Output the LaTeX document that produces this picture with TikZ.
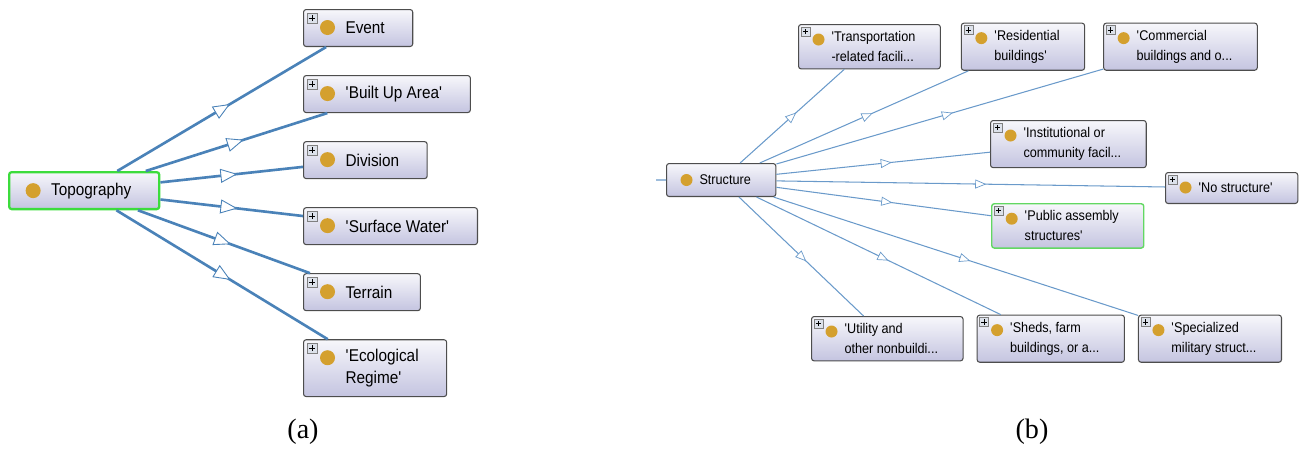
\documentclass[tikz,border=0pt]{standalone}
\usepackage{fontspec}
\setmainfont{Liberation Serif}
\newfontfamily\owlsf{Liberation Sans}[FakeStretch=0.9]
\usetikzlibrary{arrows.meta,positioning,decorations.markings}
\definecolor{boxedge}{HTML}{4D4D4D}
\definecolor{boxtop}{HTML}{F7F7FB}
\definecolor{boxbot}{HTML}{C4C4E0}
\definecolor{dotgold}{HTML}{D4A02E}
\definecolor{plusfill}{HTML}{DCE1EA}
\definecolor{linkblue}{HTML}{4A82B8}
\definecolor{linkpale}{HTML}{6A9ACA}
\definecolor{focusgreen}{HTML}{3CDC3C}
\definecolor{pickgreen}{HTML}{62D862}

\newcommand{\owlq}{\textquotesingle}
\def\headera{\hskip0.28cm##\hfil\cr}
\def\headerb{\hskip0.16cm##\hfil\cr}
\newcommand{\owldot}[3]{\fill[dotgold, draw=none] ([shift={(#1,-#2)}]path picture bounding box.north west) circle (#3);}
\newcommand{\owlplus}[2]{%
  \draw[draw=gray, fill=plusfill, line width=0.3pt, sharp corners] ([shift={(#1,-#1)}]path picture bounding box.north west) coordinate (pp) rectangle ++(#2,-#2);
  \draw[draw=black, line width=0.5pt] ([shift={(#2/2,-#2/2)}]pp) +(-#2*0.3,0) -- +(#2*0.3,0) +(0,-#2*0.3) -- +(0,#2*0.3);}

\begin{document}
\begin{tikzpicture}[x=0.02cm, y=-0.02cm,
  clsa/.style={draw=boxedge, line width=0.6pt, rounded corners=1.5pt, top color=boxtop, bottom color=boxbot, anchor=north west, inner xsep=0.56cm, inner ysep=0.19cm, minimum height=0.74cm, font=\owlsf\fontsize{9.7}{12.5}\selectfont},
  onea/.style={execute at begin node=\hskip0.28cm},
  twoa/.style={node halign header=\headera},
  suba/.style={clsa, path picture={\owldot{0.48cm}{0.36cm}{0.15cm}\owlplus{0.07cm}{0.2cm}}},
  topa/.style={clsa, onea, draw=focusgreen, line width=1.3pt, path picture={\owldot{0.48cm}{0.37cm}{0.15cm}}},
  clsb/.style={draw=boxedge, line width=0.6pt, rounded corners=1.5pt, top color=boxtop, bottom color=boxbot, anchor=north west, inner xsep=0.5cm, inner ysep=0.14cm, minimum height=0.62cm, font=\owlsf\fontsize{8}{11.4}\selectfont},
  oneb/.style={execute at begin node=\hskip0.16cm},
  twob/.style={node halign header=\headerb},
  subb/.style={clsb, path picture={\owldot{0.4cm}{0.3cm}{0.12cm}\owlplus{0.05cm}{0.18cm}}},
  topb/.style={clsb, oneb, minimum height=0.66cm, path picture={\owldot{0.4cm}{0.33cm}{0.12cm}}},
  linka/.style={draw=linkblue, line width=1.5pt, postaction={decorate}, decoration={markings, mark=at position 0.54 with {\arrow{Triangle[length=0.34cm, width=0.28cm, fill=white, line width=0.5pt]}}}},
  plainb/.style={draw=linkpale, line width=0.6pt},
  linkb/.style={plainb, postaction={decorate}, decoration={markings, mark=at position 0.54 with {\arrow{Triangle[length=0.22cm, width=0.18cm, fill=white, line width=0.4pt]}}}},
  caption/.style={font=\fontsize{16}{18}\selectfont}
]
  \useasboundingbox (0,0) rectangle (1300,450);

  \node[topa] (topo) at (8,171) {Topography};
  \node[suba, onea] (event) at (303,9) {Event};
  \node[suba, onea, below=0.56cm of event.south west, anchor=north west] (builtup) {\owlq Built Up Area\owlq};
  \node[suba, onea, below=0.56cm of builtup.south west, anchor=north west] (division) {Division};
  \node[suba, onea, below=0.56cm of division.south west, anchor=north west] (surface) {\owlq Surface Water\owlq};
  \node[suba, onea, below=0.56cm of surface.south west, anchor=north west] (terrain) {Terrain};
  \node[suba, twoa, below=0.56cm of terrain.south west, anchor=north west] (ecoregime) {\owlq Ecological\\Regime\owlq};

  \draw[linka] (topo) -- (event);
  \draw[linka] (topo) -- (builtup);
  \draw[linka] (topo) -- (division);
  \draw[linka] (topo) -- (surface);
  \draw[linka] (topo) -- (terrain);
  \draw[linka] (topo) -- (ecoregime);

  \node[topb] (structure) at (666,163) {Structure};
  \coordinate (superclass) at (656,180);
  \node[subb, twob] (transport) at (798,24) {\owlq Transportation\\-related facili...};
  \node[subb, twob, right=0.4cm of transport] (residential) {\owlq Residential\\buildings\owlq};
  \node[subb, twob, right=0.36cm of residential] (commercial) {\owlq Commercial\\buildings and o...};
  \node[subb, twob] (institutional) at (990,120) {\owlq Institutional or\\community facil...};
  \node[subb, oneb] (nostructure) at (1165,172) {\owlq No structure\owlq};
  \node[subb, twob, draw=pickgreen, line width=0.8pt] (assembly) at (991,203) {\owlq Public assembly\\structures\owlq};
  \node[subb, twob] (utility) at (811,316) {\owlq Utility and\\other nonbuildi...};
  \node[subb, twob, right=0.26cm of utility] (sheds) {\owlq Sheds, farm\\buildings, or a...};
  \node[subb, twob, right=0.26cm of sheds] (military) {\owlq Specialized\\military struct...};

  \draw[plainb] (superclass) -- (structure);
  \draw[linkb] (structure) -- (transport);
  \draw[linkb] (structure) -- (residential);
  \draw[linkb] (structure) -- (commercial);
  \draw[linkb] (structure) -- (institutional);
  \draw[linkb] (structure) -- (nostructure);
  \draw[linkb] (structure) -- (assembly);
  \draw[linkb] (structure) -- (utility);
  \draw[linkb] (structure) -- (sheds);
  \draw[linkb] (structure) -- (military);

  \node[caption] (capa) at (303,432) {(a)};
  \node[caption] (capb) at (1032,432) {(b)};
\end{tikzpicture}
\end{document}
